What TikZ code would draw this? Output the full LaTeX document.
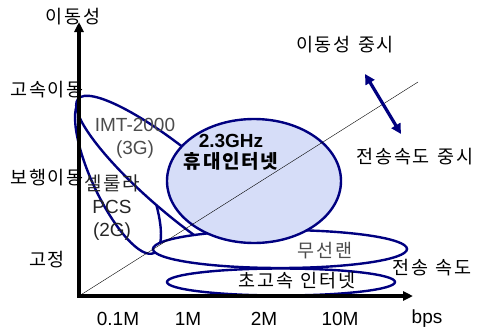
\documentclass[tikz,border=0pt]{standalone}
\usepackage{fontspec}
\setmainfont{Liberation Sans}
\newfontfamily\kr[LetterSpace=9]{Noto Sans CJK KR}
\usetikzlibrary{arrows.meta, calc}
\definecolor{navy}{RGB}{0,0,128}
\definecolor{wibroFill}{RGB}{214,221,248}
\newcommand{\axisArrow}{{Triangle[length=10pt, width=9pt]}}
\newcommand{\blueArrow}{{Triangle[length=10pt, width=10pt]}}
\newcommand{\gap}{\hspace{0.4em}}

\begin{document}
\begin{tikzpicture}[x=1pt, y=-1pt, font=\fontsize{19}{23}\selectfont,
	zone/.style={draw=navy, line width=2.4pt, fill=white},
	krtext/.style={inner sep=0pt, font=\kr\fontsize{18.5}{22}\selectfont}]
	\useasboundingbox (0,0) rectangle (477,332);
	\coordinate (O) at (79,296);
	\coordinate (Ytop) at (79,22);
	\coordinate (Xend) at (413,296);
	\coordinate (diagEnd) at (418,82);
	\coordinate (mobTip) at (365,74);
	\coordinate (rateTip) at (401,134);

	% service areas
	\draw[zone, rotate around={-65:(118,176)}] (118,176) ellipse [x radius=85, y radius=26];
	\draw[zone, rotate around={-40:(183,187)}] (183,187) ellipse [x radius=137, y radius=31];
	\draw[zone] (281,282) ellipse [x radius=114, y radius=13.5];
	\draw[zone] (280,249) ellipse [x radius=127, y radius=19];
	\draw[zone, fill=wibroFill] (254,181) ellipse [x radius=87, y radius=62];

	\draw[thin] (O) -- (diagEnd);
	\draw[line width=3.5pt, \axisArrow-\axisArrow] (Ytop) -- (O) -- (Xend);
	\draw[navy, line width=3.2pt, \blueArrow-\blueArrow] (mobTip) -- (rateTip);

	% axis texts
	\node[krtext] (mobility) at (73,17) {이동성};
	\node[krtext] (fast) at (47,90) {고속이동};
	\node[krtext] (walk) at (47,178) {보행이동};
	\node[krtext] (fixed) at (47,260) {고정};
	\node[inner sep=0pt] (xa) at (118,319) {0.1M};
	\node[inner sep=0pt] (xb) at (188,319) {1M};
	\node[inner sep=0pt] (xc) at (264,319) {2M};
	\node[inner sep=0pt] (xd) at (340,319) {10M};
	\node[inner sep=0pt] (bps) at (427,319) {bps};

	% area texts
	\node[inner sep=0pt, align=center, text=black!70] (imt) at (135,138.5) {IMT-2000\\(3G)};
	\node[inner sep=0pt, align=center, text=black!85] (pcs) at (112,208) {{\kr 셀룰라}\\PCS\\(2G)};
	\node[inner sep=0pt, align=center, font=\bfseries\fontsize{19}{21}\selectfont] (wibro) at (231,152.5) {2.3GHz\\{\kr 휴대인터넷}};
	\node[krtext, text=black!70] (wlan) at (325,251) {무선랜};
	\node[krtext] (hsi) at (297,281) {초고속\gap 인터넷};

	% direction texts
	\node[krtext] (mobFirst) at (345,45) {이동성\gap 중시};
	\node[krtext] (rateFirst) at (415,157) {전송속도\gap 중시};
	\node[krtext] (rate) at (432,268) {전송\gap 속도};
\end{tikzpicture}
\end{document}
